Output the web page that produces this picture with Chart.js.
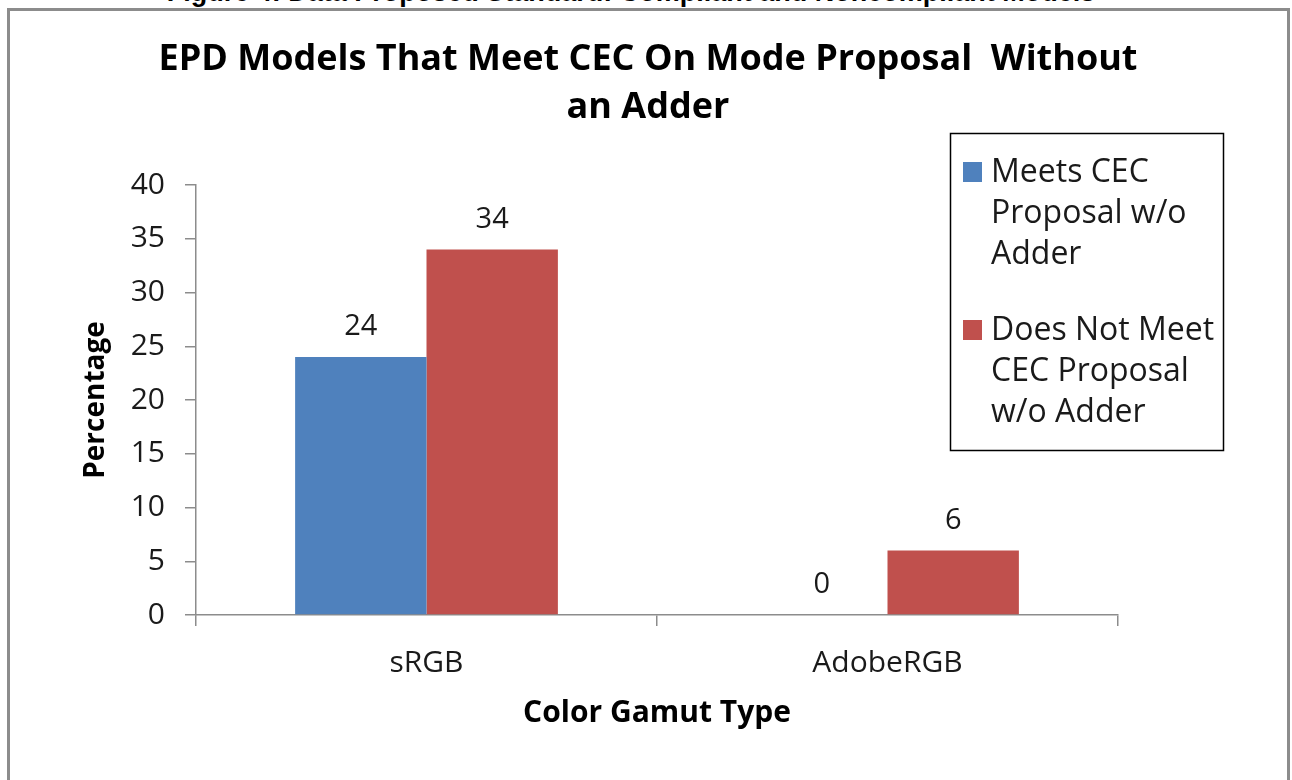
<!DOCTYPE html>
<html>
<head>
<meta charset="utf-8">
<title>EPD Models That Meet CEC On Mode Proposal Without an Adder</title>
<script src="https://cdn.jsdelivr.net/npm/chart.js@4.4.1/dist/chart.umd.min.js"></script>
<style>
  html, body { margin: 0; padding: 0; background: #fff; overflow: hidden; }
  body { width: 1292px; height: 780px; position: relative; }
  .caption {
    position: absolute; top: -21px; left: 0; width: 1262px;
    text-align: center; white-space: nowrap; color: #000;
    font: bold 27px/27px "Liberation Sans", Arial, sans-serif;
  }
  .frame {
    position: absolute; left: 7px; top: 8px; width: 1277px; height: 800px;
    border: 3px solid #8c8c8c;
  }
  #chartWrap { position: absolute; left: 0; top: 0; width: 1292px; height: 780px; }
</style>
</head>
<body>
<div class="caption">Figure 4: Data Proposed Standard: Compliant and Noncompliant Models</div>
<div class="frame"></div>
<div id="chartWrap"><canvas id="gamutChart" width="1292" height="780"></canvas></div>
<script>
// values
const categories = ["sRGB", "AdobeRGB"];
const meetsValues = [24, 0];
const notMeetValues = [34, 6];
const meetsLegend = ["Meets CEC", "Proposal w/o", "Adder"];
const notMeetLegend = ["Does Not Meet", "CEC Proposal", "w/o Adder"];
const titleLines = ["EPD Models That Meet CEC On Mode Proposal  Without", "an Adder"];
const yMin = 0;
const yMax = 40;
const yStep = 5;

const FONT = "'Open Sans', Lato, sans-serif";
const TEXT_COLOR = "#1a1a1a";
const AXIS_COLOR = "#8c8c8c";

// title drawn by hand so it can sit centred over the plot, not the canvas
const chartTitle = {
  id: "chartTitle",
  afterDraw(chart) {
    const ctx = chart.ctx;
    ctx.save();
    ctx.fillStyle = "#000";
    ctx.font = "bold 36px " + FONT;
    ctx.textAlign = "center";
    ctx.textBaseline = "middle";
    titleLines.forEach((line, i) => ctx.fillText(line, 648, 60 + i * 48));
    ctx.restore();
  }
};

// value above every bar
const barValues = {
  id: "barValues",
  afterDatasetsDraw(chart) {
    const ctx = chart.ctx;
    ctx.save();
    ctx.fillStyle = TEXT_COLOR;
    ctx.font = "29px " + FONT;
    ctx.textAlign = "center";
    ctx.textBaseline = "middle";
    chart.data.datasets.forEach((ds, i) => {
      chart.getDatasetMeta(i).data.forEach((bar, j) => {
        ctx.fillText(String(ds.data[j]), bar.x, bar.y - 30);
      });
    });
    ctx.restore();
  }
};

// boxed legend with wrapped labels, like the Excel one
const boxLegend = {
  id: "boxLegend",
  afterDraw(chart) {
    const ctx = chart.ctx;
    ctx.save();
    ctx.strokeStyle = "#000";
    ctx.lineWidth = 1.5;
    ctx.strokeRect(950.5, 133.5, 273, 317);
    ctx.font = "32px " + FONT;
    ctx.textAlign = "left";
    ctx.textBaseline = "middle";
    chart.data.datasets.forEach((ds, i) => {
      const y0 = 173 + i * 158;
      ctx.fillStyle = ds.backgroundColor;
      ctx.fillRect(963, y0 - 11, 19, 20);
      ctx.fillStyle = TEXT_COLOR;
      ds.legendLines.forEach((line, k) => ctx.fillText(line, 991, y0 + k * 41));
    });
    ctx.restore();
  }
};

const ctx = document.getElementById("gamutChart");
new Chart(ctx, {
  type: "bar",
  data: {
    labels: categories,
    datasets: [
      {
        label: meetsLegend.join(" "),
        legendLines: meetsLegend,
        data: meetsValues,
        backgroundColor: "#4f81bd",
        categoryPercentage: 0.57,
        barPercentage: 1.0
      },
      {
        label: notMeetLegend.join(" "),
        legendLines: notMeetLegend,
        data: notMeetValues,
        backgroundColor: "#c0504d",
        categoryPercentage: 0.57,
        barPercentage: 1.0
      }
    ]
  },
  options: {
    responsive: false,
    animation: false,
    devicePixelRatio: 1,
    layout: {
      padding: { left: 70, right: 174, top: 185, bottom: 40 }
    },
    plugins: {
      legend: { display: false },
      title: { display: false },
      tooltip: { enabled: false }
    },
    scales: {
      x: {
        grid: {
          offset: true,
          drawOnChartArea: false,
          drawTicks: true,
          tickLength: 11,
          color: AXIS_COLOR,
          lineWidth: 1.5
        },
        border: { color: AXIS_COLOR, width: 1.5 },
        ticks: {
          color: TEXT_COLOR,
          font: { family: FONT, size: 30 },
          padding: 19
        },
        title: {
          display: true,
          text: "Color Gamut Type",
          color: "#000",
          font: { family: FONT, size: 30, weight: "bold" },
          padding: { top: 0, bottom: 9 }
        },
        afterFit(scale) { scale.height = 125; }
      },
      y: {
        min: yMin,
        max: yMax,
        ticks: {
          stepSize: yStep,
          color: TEXT_COLOR,
          font: { family: FONT, size: 30 },
          padding: 20
        },
        grid: {
          drawOnChartArea: false,
          drawTicks: true,
          tickLength: 11,
          color: AXIS_COLOR,
          lineWidth: 1.5
        },
        border: { color: AXIS_COLOR, width: 1.5 },
        title: {
          display: true,
          text: "Percentage",
          color: "#000",
          font: { family: FONT, size: 28, weight: "bold" },
          padding: { top: 9, bottom: 0 }
        },
        afterFit(scale) { scale.width = 126; }
      }
    }
  },
  plugins: [chartTitle, barValues, boxLegend]
});
</script>
</body>
</html>
